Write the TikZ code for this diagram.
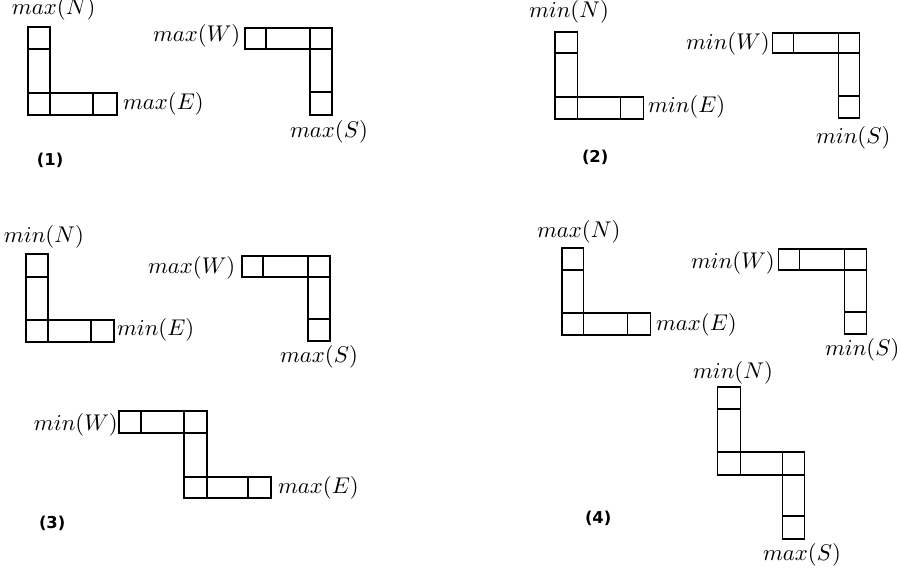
\documentclass[tikz,border=0pt]{standalone}
\usepackage{fontspec}
\newfontfamily\numfont{DejaVu Sans}
\begin{document}
\begin{tikzpicture}[x=0.44pt,y=-0.44pt,
  cellbox/.style={draw=black,line width=0.45pt},
  lab/.style={anchor=base west,inner sep=0pt,outer sep=0pt,font=\fontsize{10}{12}\selectfont},
  numlab/.style={anchor=base west,inner sep=0pt,outer sep=0pt,font=\numfont\bfseries\fontsize{7.2}{8}\selectfont}]
\useasboundingbox (0,0) rectangle (900,578);
\newcommand{\cellrect}[4]{\draw[cellbox] (#1,#2) rectangle (#3,#4);}
% ---------- panel (1) ----------
\cellrect{28}{27}{50}{49}\cellrect{28}{49}{50}{93}\cellrect{28}{93}{50}{115}\cellrect{50}{93}{93}{115}\cellrect{93}{93}{117}{115}
\node[lab] (p1n) at (12,15) {$max(N)$};
\node[lab] (p1e) at (123,110) {$max(E)$};
\cellrect{245}{28}{266}{49}\cellrect{266}{28}{310}{49}\cellrect{310}{28}{332}{49}\cellrect{310}{49}{332}{92}\cellrect{310}{92}{332}{115}
\node[lab] (p1w) at (153,42) {$max(W)$};
\node[lab] (p1s) at (290,137) {$max(S)$};
\node[numlab] (n1) at (37,165) {(1)};
% ---------- panel (2) ----------
\cellrect{555}{32}{577}{53}\cellrect{555}{53}{577}{97}\cellrect{555}{97}{577}{119}\cellrect{577}{97}{620}{119}\cellrect{620}{97}{643}{119}
\node[lab] (p2n) at (529,18) {$min(N)$};
\node[lab] (p2e) at (648,113) {$min(E)$};
\cellrect{772}{33}{793}{53}\cellrect{793}{33}{838}{53}\cellrect{838}{33}{859}{53}\cellrect{838}{53}{859}{96}\cellrect{838}{96}{859}{118}
\node[lab] (p2w) at (686,50) {$min(W)$};
\node[lab] (p2s) at (816,143) {$min(S)$};
\node[numlab] (n2) at (582,162) {(2)};
% ---------- panel (3) ----------
\cellrect{26}{254}{48}{277}\cellrect{26}{277}{48}{320}\cellrect{26}{320}{48}{342}\cellrect{48}{320}{91}{342}\cellrect{91}{320}{114}{342}
\node[lab] (p3n) at (4,242) {$min(N)$};
\node[lab] (p3e) at (117,335) {$min(E)$};
\cellrect{242}{256}{263}{277}\cellrect{263}{256}{308}{277}\cellrect{308}{256}{330}{277}\cellrect{308}{277}{330}{319}\cellrect{308}{319}{330}{341}
\node[lab] (p3w) at (148,273) {$max(W)$};
\node[lab] (p3s) at (280,362) {$max(S)$};
\cellrect{119}{411}{141}{433}\cellrect{141}{411}{184}{433}\cellrect{184}{411}{207}{433}\cellrect{184}{433}{207}{477}\cellrect{184}{477}{207}{498}\cellrect{207}{477}{248}{498}\cellrect{248}{477}{271}{498}
\node[lab] (p3zw) at (34,430) {$min(W)$};
\node[lab] (p3ze) at (278,493) {$max(E)$};
\node[numlab] (n3) at (39,528) {(3)};
% ---------- panel (4) ----------
\cellrect{562}{248}{583}{270}\cellrect{562}{270}{583}{313}\cellrect{562}{313}{583}{335}\cellrect{583}{313}{627}{335}\cellrect{627}{313}{650}{335}
\node[lab] (p4n) at (537,237) {$max(N)$};
\node[lab] (p4e) at (656,330) {$max(E)$};
\cellrect{778}{249}{799}{270}\cellrect{799}{249}{844}{270}\cellrect{844}{249}{866}{270}\cellrect{844}{270}{866}{312}\cellrect{844}{312}{866}{334}
\node[lab] (p4w) at (691,268) {$min(W)$};
\node[lab] (p4s) at (825,355) {$min(S)$};
\cellrect{717}{387}{740}{409}\cellrect{717}{409}{740}{452}\cellrect{717}{452}{740}{475}\cellrect{740}{452}{782}{475}\cellrect{782}{452}{804}{475}\cellrect{782}{475}{804}{516}\cellrect{782}{516}{804}{539}
\node[lab] (p4zn) at (693,378) {$min(N)$};
\node[lab] (p4zs) at (763,560) {$max(S)$};
\node[numlab] (n4) at (585,523) {(4)};
\end{tikzpicture}
\end{document}
